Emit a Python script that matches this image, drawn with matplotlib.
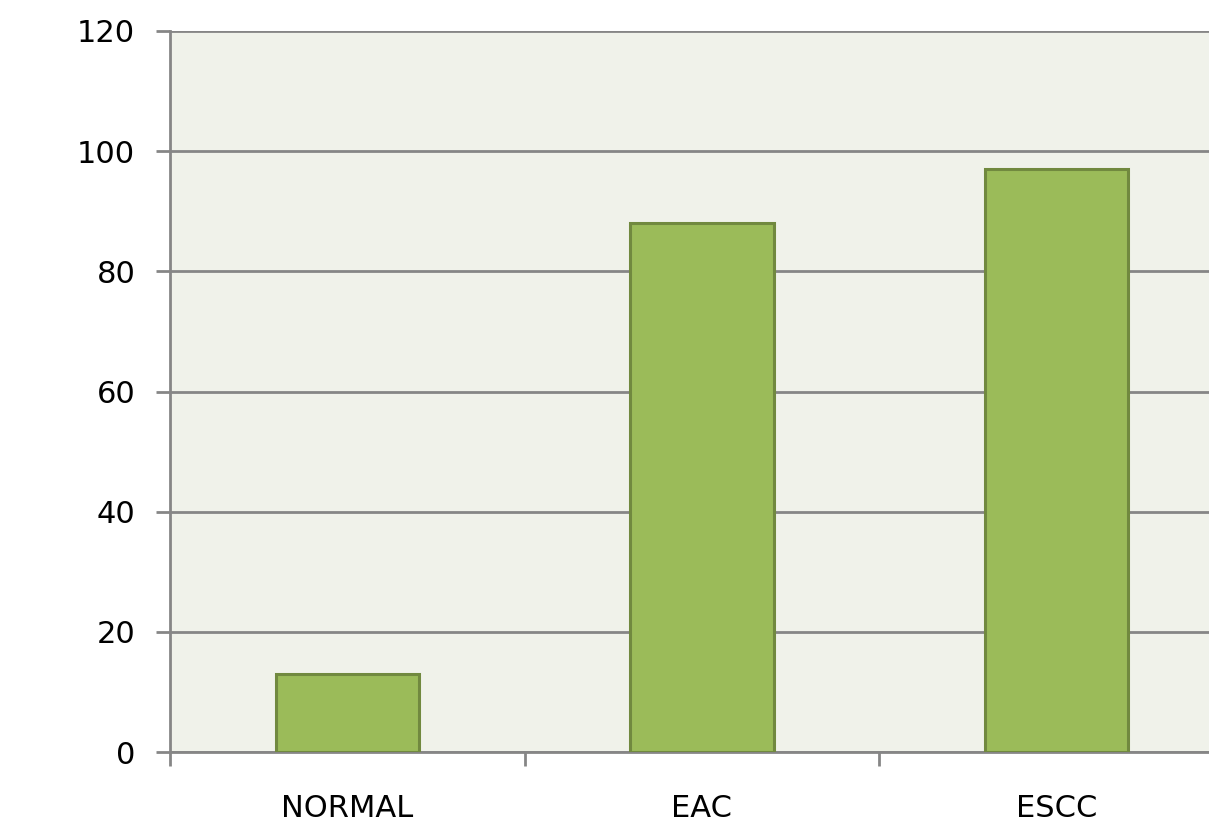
import matplotlib
matplotlib.use("Agg")
import matplotlib.pyplot as plt

categories = ["NORMAL", "EAC", "ESCC"]
values = [13, 88, 97]
y_ticks = [0, 20, 40, 60, 80, 100, 120]

fig = plt.figure(figsize=(12.09, 8.25), dpi=100)
fig.patch.set_facecolor("white")

# plot area runs past the right edge of the canvas
ax = fig.add_axes([170 / 1209, 73 / 825, 1064 / 1209, 721 / 825])
ax.set_facecolor("#F0F2EA")

x = list(range(len(categories)))
ax.bar(x, values, width=0.405, color="#9BBB59", edgecolor="#71893F",
       linewidth=2.2, zorder=3)

ax.set_xlim(-0.5, len(categories) - 0.5)
ax.set_ylim(0, 120)
ax.set_yticks(y_ticks)
ax.set_yticklabels([str(v) for v in y_ticks])
ax.yaxis.grid(True, color="#868686", linewidth=2.0, zorder=1)
ax.set_axisbelow(True)

# category labels centred, tick marks on category boundaries
ax.set_xticks(x)
ax.set_xticklabels(categories)
ax.tick_params(axis="x", which="major", length=0, pad=30, labelsize=22,
               labelcolor="black")
ax.set_xticks([-0.5, 0.5, 1.5, 2.5], minor=True)
ax.tick_params(axis="x", which="minor", length=10, width=2.0,
               color="#868686", direction="out")
ax.tick_params(axis="y", length=10, width=2.0, color="#868686",
               direction="out", pad=15, labelsize=22, labelcolor="black")

for side in ("top", "right"):
    ax.spines[side].set_visible(False)
for side in ("left", "bottom"):
    ax.spines[side].set_color("#868686")
    ax.spines[side].set_linewidth(2.0)

fig.savefig("out.png", dpi=100)
